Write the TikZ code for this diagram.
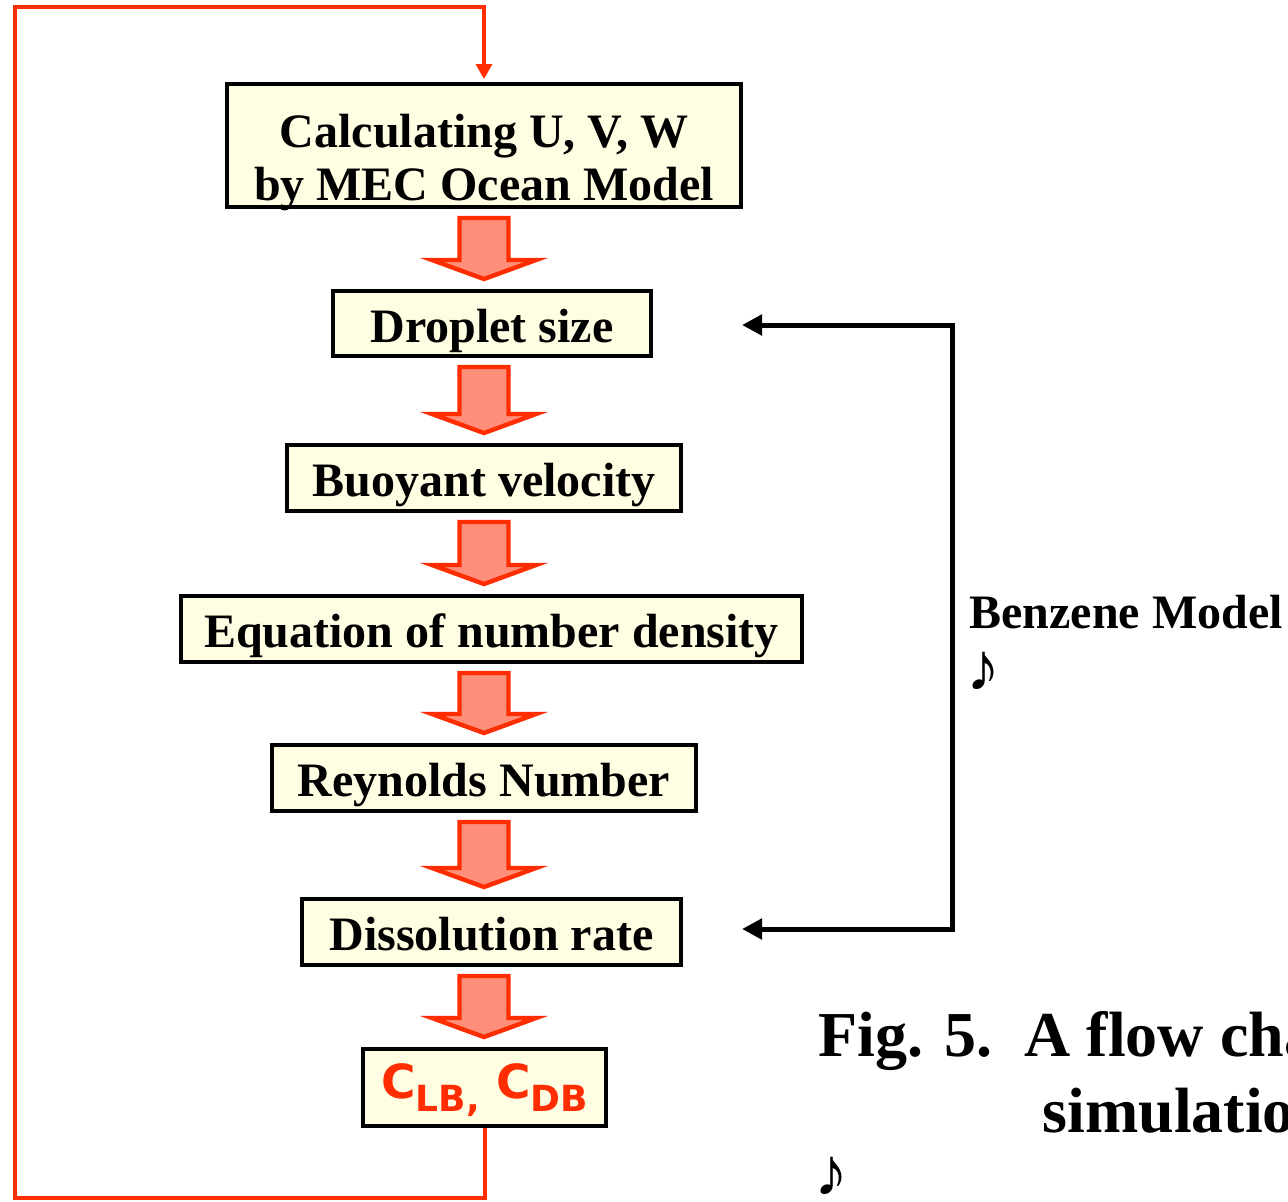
\documentclass[tikz,border=0pt]{standalone}
\usepackage{fontspec}
\setmainfont{Liberation Serif}
\newfontfamily\redsans{DejaVu Sans}
\usetikzlibrary{arrows.meta,calc}
\definecolor{loopred}{RGB}{255,45,0}
\definecolor{arrfill}{RGB}{255,143,122}
\definecolor{boxfill}{RGB}{255,253,226}
\tikzset{
  flowbox/.style={draw=black, line width=2pt, fill=boxfill, inner sep=0pt, align=center,
    font=\fontsize{24}{28}\selectfont\bfseries, text height=23pt, text depth=4.5pt},
  blockarr/.style={draw=loopred, line width=2.2pt, fill=arrfill, line join=miter},
  loopline/.style={draw=loopred, line width=2pt},
  bracket/.style={draw=black, line width=2.5pt, {Triangle[length=10pt,width=10pt]}-{Triangle[length=10pt,width=10pt]}},
  bigtext/.style={font=\fontsize{24}{28}\selectfont\bfseries, inner sep=0pt, anchor=base west},
  notetext/.style={font=\fontsize{34}{34}\selectfont\bfseries, inner sep=0pt, anchor=base west,
    text height=20pt, text depth=0pt},
  captext/.style={font=\fontsize{32}{38}\selectfont\bfseries, inner sep=0pt, anchor=base west}
}
\newcommand{\blockarrow}[2]{%
  \draw[blockarr] let \p1=(#1.south -| col), \p2=(#2.north -| col) in
    (\x1-12.25pt,\y1-4.5pt) -- (\x1+12.25pt,\y1-4.5pt) -- (\x1+12.25pt,\y2+14.5pt)
    -- (\x1+26pt,\y2+14.5pt) -- (\x1,\y2+5pt) -- (\x1-26pt,\y2+14.5pt)
    -- (\x1-12.25pt,\y2+14.5pt) -- cycle;}
\begin{document}
\begin{tikzpicture}[x=0.5pt,y=-0.5pt]
\useasboundingbox (0,0) rectangle (1288,1201);
\coordinate (col) at (484,0);
% boxes
\node[flowbox, minimum width=257pt, minimum height=61.5pt, text height=58pt, text depth=3.5pt,
  font=\fontsize{24}{26.5}\selectfont\bfseries] (calc) at (484,145.5)
  {Calculating U, V, W\\by MEC Ocean Model};
\node[flowbox, minimum width=159pt, minimum height=32.5pt] (drop) at (492,323.5) {Droplet size};
\node[flowbox, minimum width=197pt, minimum height=33pt] (buoy) at (484,478) {Buoyant velocity};
\node[flowbox, minimum width=310.5pt, minimum height=33pt] (eqn) at (491.5,629) {Equation of number density};
\node[flowbox, minimum width=212pt, minimum height=33pt] (reyn) at (484,778) {Reynolds Number};
\node[flowbox, minimum width=189.5pt, minimum height=33pt] (diss) at (491.5,932) {Dissolution rate};
\node[flowbox, minimum width=121.5pt, minimum height=38.5pt, text height=16pt, text depth=5.5pt,
  font=\redsans\bfseries\fontsize{23.5}{26}\selectfont, text=loopred] (conc) at (484.5,1087.5)
  {C\raisebox{-6.5pt}{\fontsize{18}{18}\selectfont LB,} C\raisebox{-6.5pt}{\fontsize{18}{18}\selectfont DB}};
% block arrows
\blockarrow{calc}{drop}
\blockarrow{drop}{buoy}
\blockarrow{buoy}{eqn}
\blockarrow{eqn}{reyn}
\blockarrow{reyn}{diss}
\blockarrow{diss}{conc}
% red feedback loop
\coordinate (lb) at (15,1198);
\coordinate (lt) at (15,7);
\draw[loopline, -{Triangle[length=7.5pt,width=8pt]}, shorten >=1.5pt]
  (conc.south) |- (lb) -- (lt) -| (calc.north);
% benzene model bracket
\coordinate (b1) at (742,325);
\coordinate (bc1) at (952,325);
\coordinate (bc2) at (952,929);
\coordinate (b2) at (742,929);
\draw[bracket] (b1) -- (bc1) -- (bc2) -- (b2);
\node[bigtext] (benz) at (969,628) {Benzene Model};
\node[notetext] (note1) at (966,690) {♪};
% caption
\node[captext] (cap1) at (818,1056) {Fig. 5.\ \ A flow cha};
\node[captext] (cap2) at (1042,1132) {simulatio};
\node[notetext] (note2) at (814,1195) {♪};
\end{tikzpicture}
\end{document}
